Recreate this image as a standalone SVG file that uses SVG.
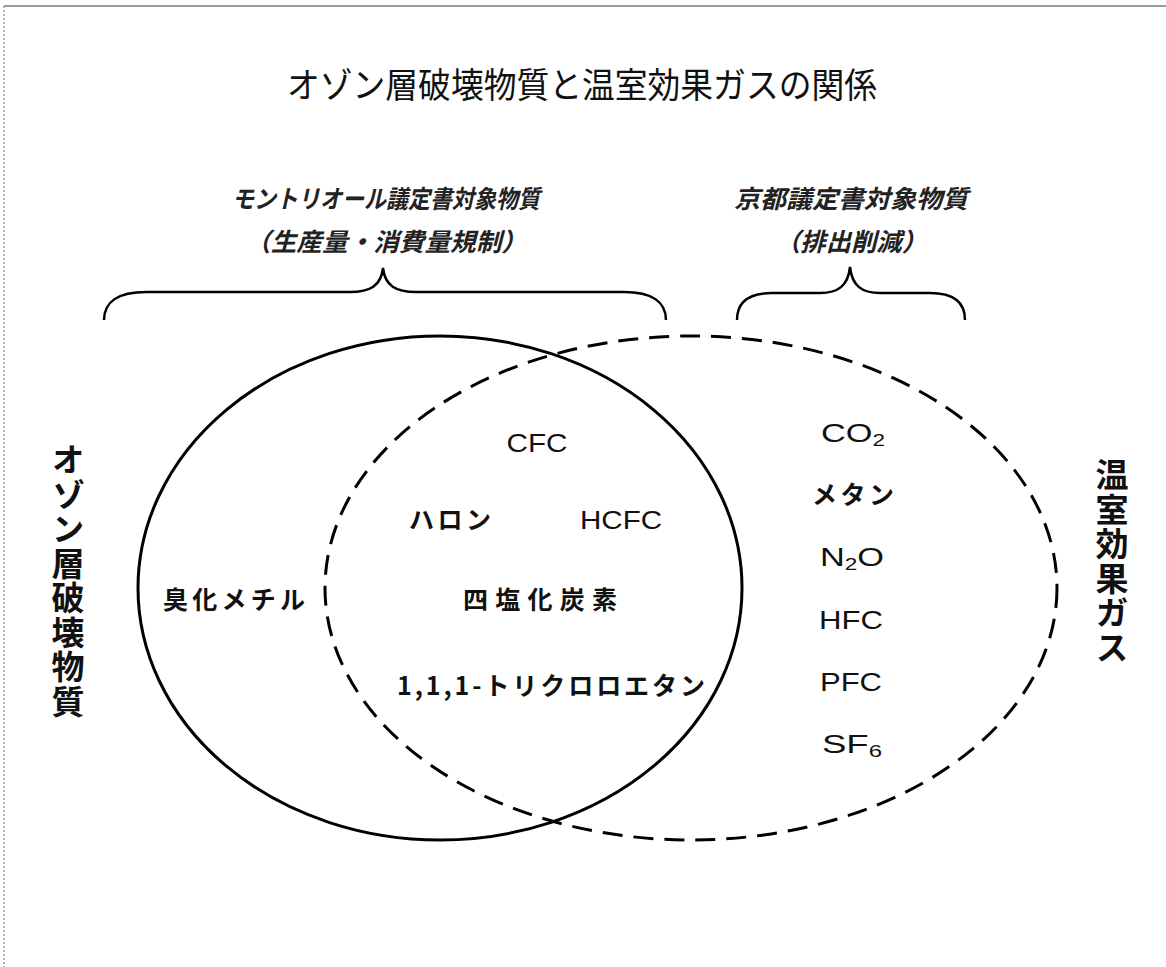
<svg xmlns="http://www.w3.org/2000/svg" width="1166" height="967" viewBox="0 0 1166 967">
<style>
  .jp { font-family: "Noto Sans CJK JP", "Liberation Sans", sans-serif; fill: #111; }
  .lat { font-family: "Liberation Sans", "Noto Sans CJK JP", sans-serif; fill: #111; }
  .title { font-size: 35px; }
  .sub { font-size: 25px; font-style: italic; font-weight: bold; fill: #222; }
  .vert { font-size: 33px; font-weight: bold; writing-mode: vertical-rl; letter-spacing: 1.5px; }
  .lbl { font-size: 25px; font-weight: bold; }
  .chem { font-size: 26px; }
  .sb { font-size: 17px; }
  .solid { fill: none; stroke: #000; stroke-width: 3; }
  .dashed { fill: none; stroke: #000; stroke-width: 3; stroke-dasharray: 20 11; }
  .brace { fill: none; stroke: #000; stroke-width: 2.5; }
</style>
<rect x="0" y="0" width="1166" height="967" fill="#fff"/>
<line x1="4" y1="6" x2="1166" y2="6" stroke="#999" stroke-width="2"/>
<line x1="4" y1="6" x2="4" y2="967" stroke="#999" stroke-width="1.5" stroke-dasharray="2 2"/>

<text id="title" class="jp title" x="582" y="98" text-anchor="middle" textLength="590" lengthAdjust="spacingAndGlyphs">オゾン層破壊物質と温室効果ガスの関係</text>

<g id="montreal">
  <text class="jp sub" x="386" y="208" text-anchor="middle" textLength="308" lengthAdjust="spacingAndGlyphs">モントリオール議定書対象物質</text>
  <text class="jp sub" x="386" y="251" text-anchor="middle" textLength="282" lengthAdjust="spacingAndGlyphs">（生産量・消費量規制）</text>
</g>
<g id="kyoto">
  <text class="jp sub" x="851" y="208" text-anchor="middle" textLength="234" lengthAdjust="spacingAndGlyphs">京都議定書対象物質</text>
  <text class="jp sub" x="851" y="251" text-anchor="middle" textLength="152" lengthAdjust="spacingAndGlyphs">（排出削減）</text>
</g>

<g id="connectors">
  <path class="brace" d="M104,320 C104,302 118,292 146,292 L350,292 C370,292 381,286 383,268 C385,286 396,292 416,292 L624,292 C652,292 666,302 666,320"/>
  <path class="brace" d="M737,320 C737,302 748,293 772,293 L820,293 C838,293 848,286 850,267 C852,286 862,293 880,293 L930,293 C954,293 965,302 965,320"/>
</g>

<g id="ozone-set">
  <ellipse class="solid" cx="440" cy="588" rx="302" ry="252"/>
</g>
<g id="ghg-set">
  <ellipse class="dashed" cx="691" cy="588" rx="366" ry="252"/>
</g>

<g id="label-ozone">
  <text class="jp vert" x="68" y="443">オゾン層破壊物質</text>
</g>
<g id="label-ghg">
  <text class="jp vert" x="1112" y="458">温室効果ガス</text>
</g>

<g id="methyl-bromide"><text class="jp lbl" x="234" y="609" text-anchor="middle" textLength="142" lengthAdjust="spacing">臭化メチル</text></g>
<g id="cfc"><text class="lat chem" x="537" y="452" text-anchor="middle" textLength="61" lengthAdjust="spacingAndGlyphs">CFC</text></g>
<g id="halon"><text class="jp lbl" x="450" y="529" text-anchor="middle" textLength="82" lengthAdjust="spacing">ハロン</text></g>
<g id="hcfc"><text class="lat chem" x="621" y="529" text-anchor="middle" textLength="82" lengthAdjust="spacingAndGlyphs">HCFC</text></g>
<g id="ccl4"><text class="jp lbl" x="540" y="609" text-anchor="middle" textLength="154" lengthAdjust="spacing">四塩化炭素</text></g>
<g id="tce"><text class="jp lbl" x="551" y="695" text-anchor="middle" textLength="308" lengthAdjust="spacing">1,1,1-トリクロロエタン</text></g>

<g id="co2"><text class="lat chem" x="853" y="442" text-anchor="middle" textLength="64" lengthAdjust="spacingAndGlyphs">CO<tspan class="sb" dy="4">2</tspan></text></g>
<g id="methane"><text class="jp lbl" x="853" y="504" text-anchor="middle" textLength="82" lengthAdjust="spacing">メタン</text></g>
<g id="n2o"><text class="lat chem" x="852" y="566" text-anchor="middle" textLength="64" lengthAdjust="spacingAndGlyphs">N<tspan class="sb" dy="4">2</tspan><tspan dy="-4">O</tspan></text></g>
<g id="hfc"><text class="lat chem" x="851" y="629" text-anchor="middle" textLength="64" lengthAdjust="spacingAndGlyphs">HFC</text></g>
<g id="pfc"><text class="lat chem" x="851" y="691" text-anchor="middle" textLength="62" lengthAdjust="spacingAndGlyphs">PFC</text></g>
<g id="sf6"><text class="lat chem" x="852" y="753" text-anchor="middle" textLength="60" lengthAdjust="spacingAndGlyphs">SF<tspan class="sb" dy="4">6</tspan></text></g>
</svg>
